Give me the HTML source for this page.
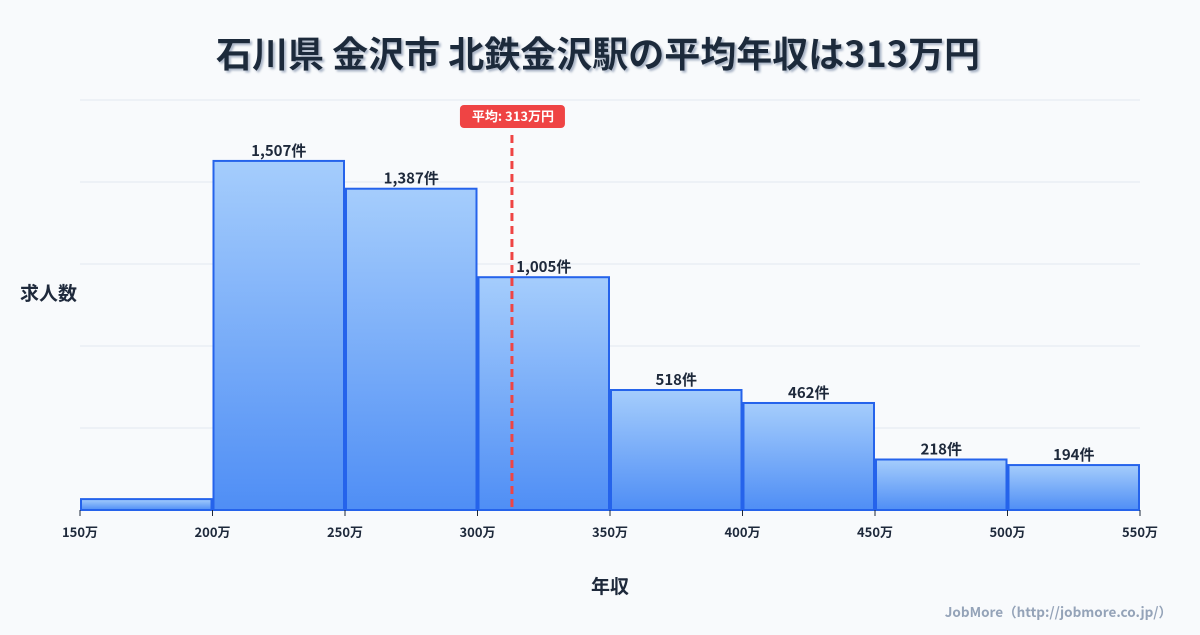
<!DOCTYPE html>
<html><head><meta charset="utf-8">
<style>
body{margin:0;background:#f8fafc;width:1200px;height:630px;overflow:hidden;font-family:"Noto Sans CJK JP",sans-serif;}
svg text{font-family:"Noto Sans CJK JP",sans-serif;}
</style></head><body>
<svg width="1200" height="630">
<defs>
<linearGradient id="g" x1="0" y1="0" x2="0" y2="1"><stop offset="0" stop-color="#a5cdfc"/><stop offset="1" stop-color="#4f8ef5"/></linearGradient>
<filter id="sh"><feDropShadow dx="2" dy="2" stdDeviation="1" flood-color="#94a3b8" flood-opacity="0.8"/></filter>
</defs>
<rect width="1200" height="630" fill="#f8fafc"/>
<text x="598" y="67" text-anchor="middle" font-size="36" font-weight="bold" fill="#1e293b" filter="url(#sh)">石川県 金沢市 北鉄金沢駅の平均年収は313万円</text>
<g id="grid"></g>
<g id="bars"></g>
<g id="axis"></g>
<text x="20" y="300" font-size="19" font-weight="bold" fill="#1e293b">求人数</text>
<text x="610" y="593" text-anchor="middle" font-size="19" font-weight="bold" fill="#1e293b">年収</text>
<text x="1172" y="617" text-anchor="end" font-size="13.5" font-weight="bold" fill="#94a3b8">JobMore（http://jobmore.co.jp/）</text>
<g id="mean"></g>
</svg>
<script>
const binStarts=[150,200,250,300,350,400,450,500];
const counts=[47,1507,1387,1005,518,462,218,194];
const labels=["","1,507件","1,387件","1,005件","518件","462件","218件","194件"];
const xTicks=[150,200,250,300,350,400,450,500,550];
const meanValue=313;
const binWidth=50, yMax=1770;
const NS="http://www.w3.org/2000/svg";
const x=v=>80+(v-150)*(1060/400);
const y=v=>510-v*(410/yMax);
function mk(t,a,p){const e=document.createElementNS(NS,t);for(const k in a)e.setAttribute(k,a[k]);p.appendChild(e);return e;}
const grid=document.getElementById('grid');
for(let i=0;i<=5;i++){const gy=510-i*82;const l=mk('line',{x1:80,x2:1140,y1:gy,y2:gy,stroke:'#e2e8f0','stroke-width':1},grid);

}
const bars=document.getElementById('bars');
counts.forEach((c,i)=>{const x0=x(binStarts[i])+1,x1=x(binStarts[i]+binWidth)-1;
const r=mk('rect',{x:x0,y:y(c),width:x1-x0,height:510-y(c),fill:'url(#g)',stroke:'#2563eb','stroke-width':2},bars);


if(labels[i]){const t=mk('text',{x:(x0+x1)/2,y:y(c)-5,'text-anchor':'middle','font-size':15,'font-weight':'bold',fill:'#1e293b'},bars);t.textContent=labels[i];

}});
const ax=document.getElementById('axis');
xTicks.forEach(v=>{const l=mk('line',{x1:x(v),x2:x(v),y1:510,y2:516,stroke:'#1e293b','stroke-width':1},ax);


const t=mk('text',{x:x(v),y:537,'text-anchor':'middle','font-size':13,'font-weight':'bold',fill:'#1e293b'},ax);t.textContent=v+'万';

});
const m=document.getElementById('mean');const mx=x(meanValue);
const ml=mk('line',{x1:mx,x2:mx,y1:135,y2:510,stroke:'#ef4444','stroke-width':3,'stroke-dasharray':'8,5'},m);


const mb=mk('rect',{x:mx-52,y:105,width:105,height:23,rx:4,fill:'#ef4444'},m);


const mt=mk('text',{x:mx+1,y:121,'text-anchor':'middle','font-size':13,'font-weight':'bold',fill:'#fff'},m);mt.textContent='平均: '+meanValue+'万円';


</script>
</body></html>
